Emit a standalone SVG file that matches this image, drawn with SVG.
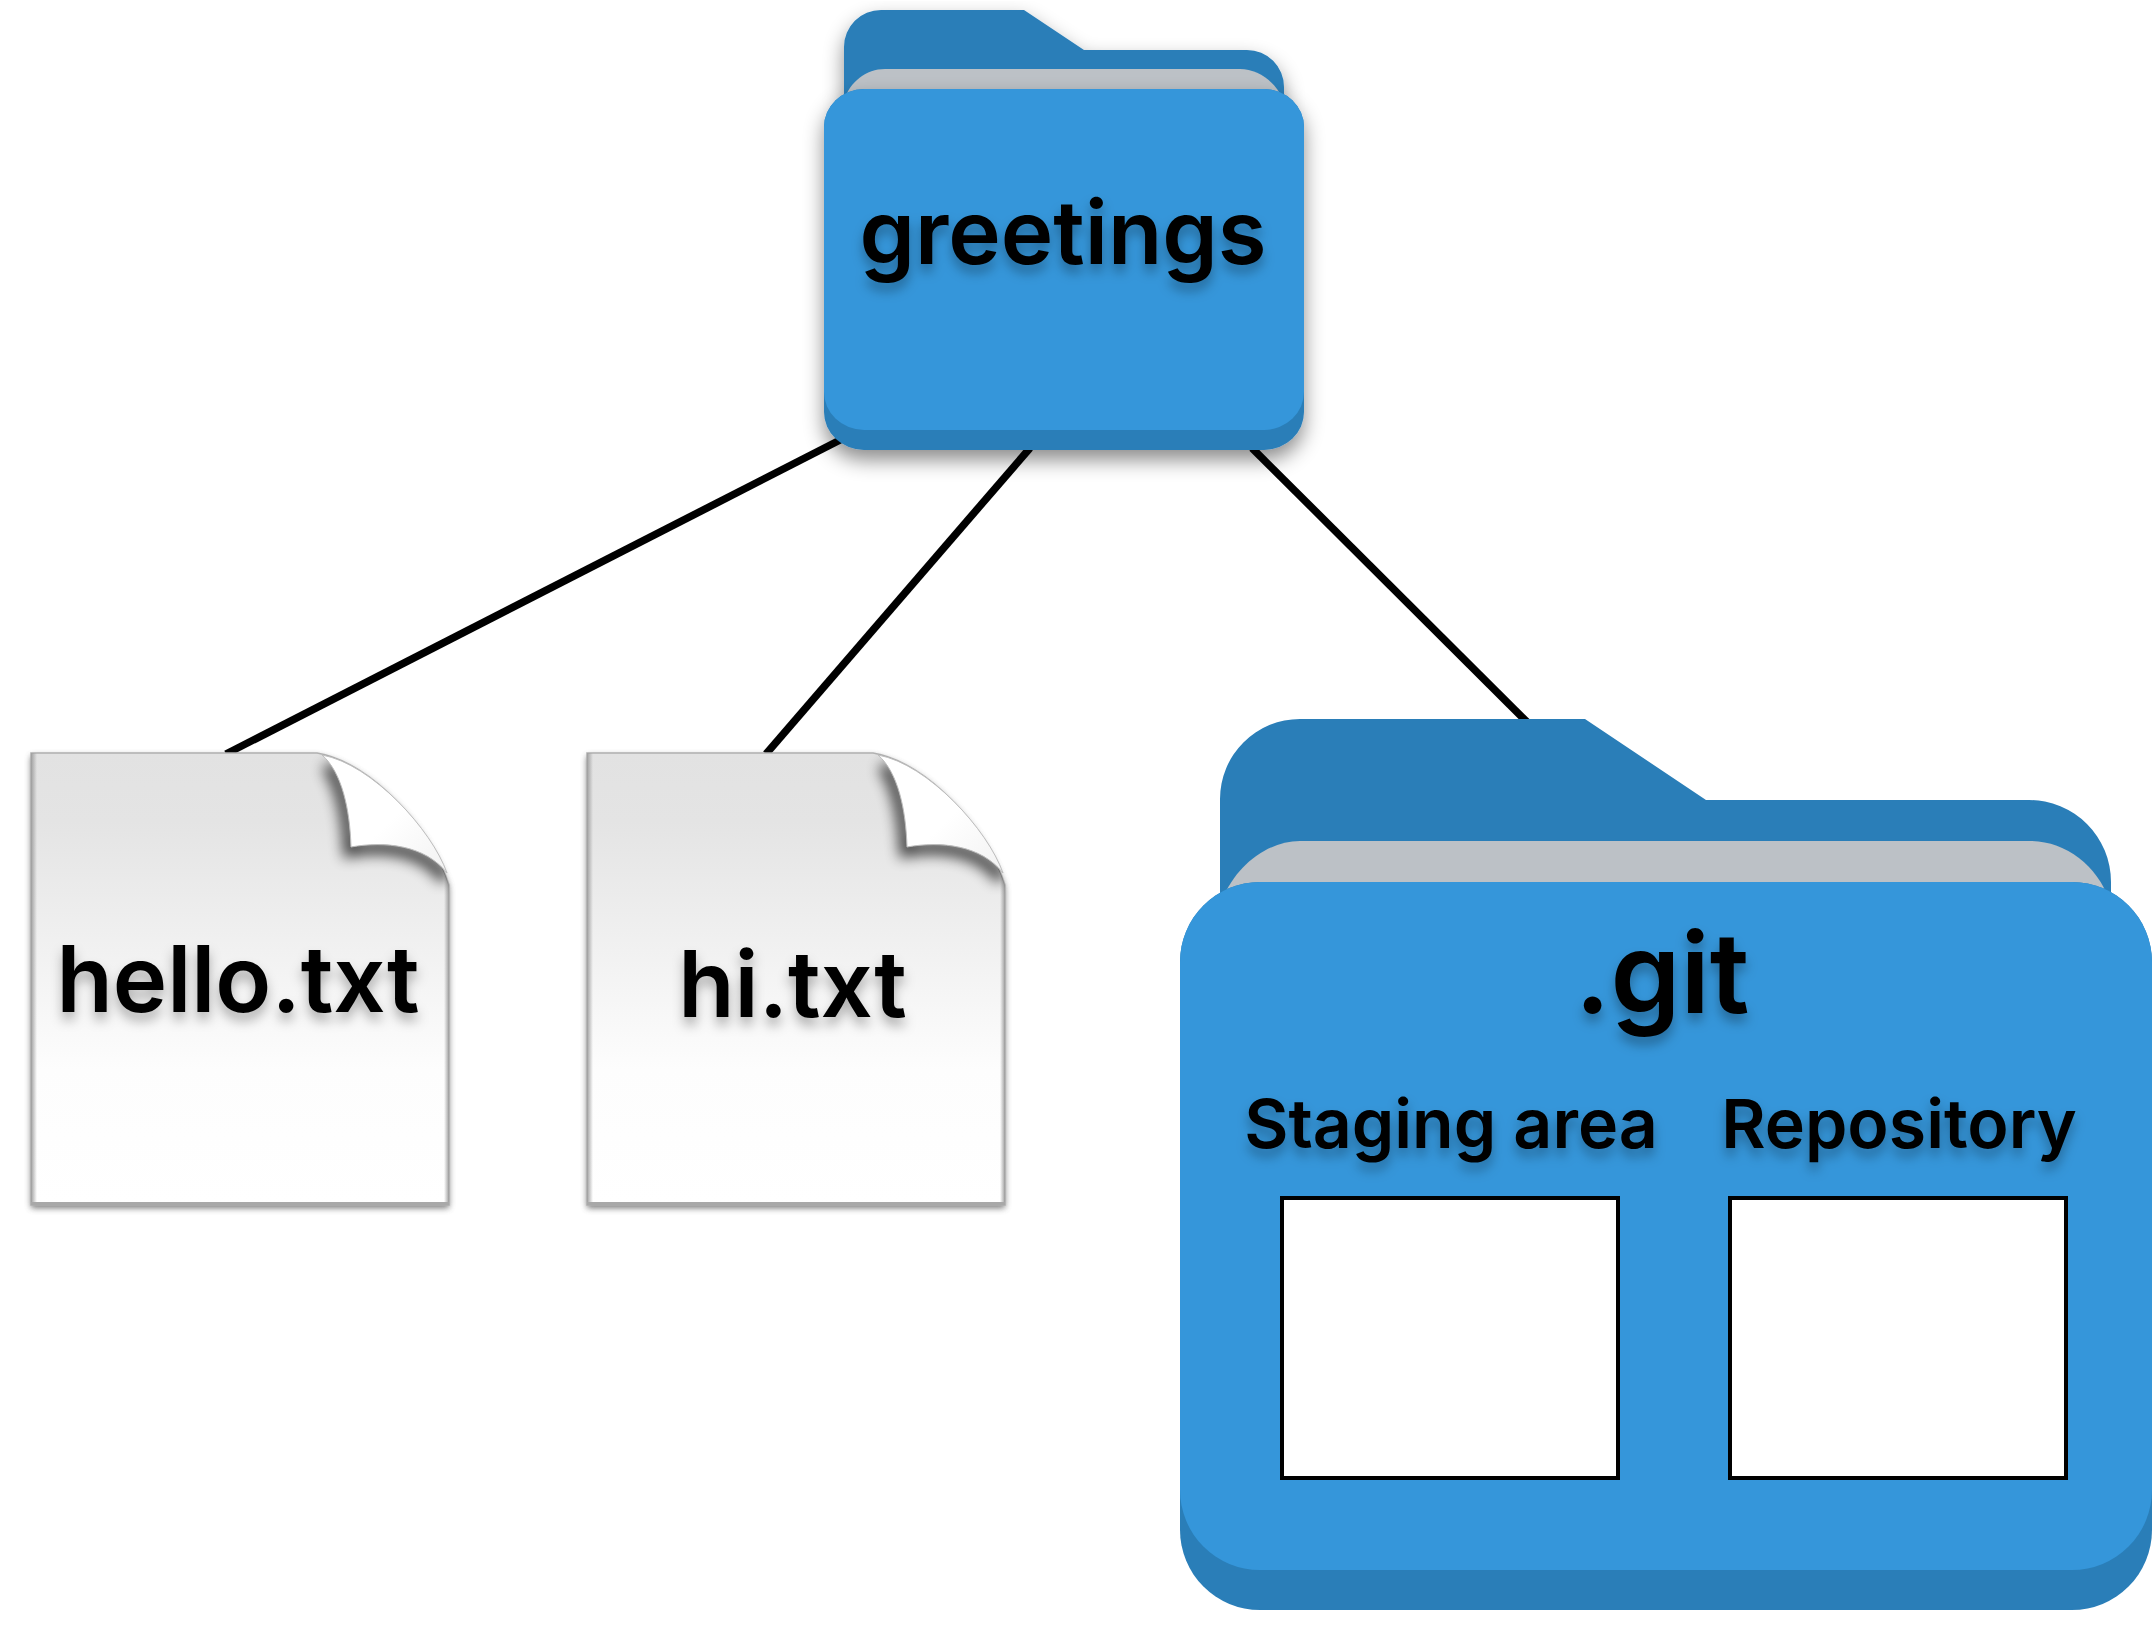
<svg xmlns="http://www.w3.org/2000/svg" xmlns:xlink="http://www.w3.org/1999/xlink" width="2152" height="1634" viewBox="0 0 2152 1634">
<style>
.lbl{font-family:"Inter","Liberation Sans",sans-serif;font-weight:600;fill:#000;text-anchor:middle;filter:url(#ts)}
.dark{fill:#2a7eb8}.light{fill:#3596da}.paper{fill:#bcc1c6}
.conn{stroke:#000;stroke-width:7.5;fill:none}
.box{fill:#fff;stroke:#000;stroke-width:4}
</style>
<defs>
<filter id="ts" x="-10%" y="-30%" width="120%" height="170%"><feDropShadow dx="0" dy="8" stdDeviation="6" flood-color="#000" flood-opacity="0.3"/></filter>
<filter id="fs" x="-10%" y="-10%" width="120%" height="125%"><feDropShadow dx="0" dy="10" stdDeviation="10" flood-color="#000" flood-opacity="0.45"/></filter>
<filter id="b3" x="-30%" y="-30%" width="160%" height="160%"><feGaussianBlur stdDeviation="3"/></filter>
<filter id="b5" x="-40%" y="-40%" width="180%" height="180%"><feGaussianBlur stdDeviation="7"/></filter>
<linearGradient id="pg" x1="0" y1="0" x2="0" y2="1"><stop offset="0" stop-color="#e2e2e2"/><stop offset="0.15" stop-color="#e4e4e4"/><stop offset="0.7" stop-color="#fdfdfd"/><stop offset="1" stop-color="#fff"/></linearGradient>
<linearGradient id="el" x1="0" y1="0" x2="1" y2="0"><stop offset="0" stop-color="#a0a0a0"/><stop offset="1" stop-color="#a0a0a0" stop-opacity="0"/></linearGradient>
<linearGradient id="er" x1="1" y1="0" x2="0" y2="0"><stop offset="0" stop-color="#a0a0a0"/><stop offset="1" stop-color="#a0a0a0" stop-opacity="0"/></linearGradient>
<linearGradient id="fg" x1="0" y1="0" x2="1" y2="1"><stop offset="0.55" stop-color="#fff"/><stop offset="1" stop-color="#f2f2f2"/></linearGradient>
<clipPath id="dc"><path d="M31,753H317C372,762 432,830 449,885V1205H31Z"/></clipPath>
<g id="doc">
<path d="M31,753H317C372,762 432,830 449,885V1205H31Z" fill="#555" filter="url(#b3)" opacity="0.8" transform="translate(0,3)"/>
<path d="M31,753H317C372,762 432,830 449,885V1205H31Z" fill="url(#pg)" stroke="#b0b0b0" stroke-width="1.5"/>
<g clip-path="url(#dc)">
<rect x="31" y="753" width="6" height="452" fill="url(#el)"/>
<rect x="444" y="860" width="5" height="345" fill="url(#er)"/>
<rect x="31" y="1202" width="418" height="3" fill="#a8a8a8"/>
<path d="M329,762C345,785 350,820 351,847C385,841 425,845 447,876" fill="none" stroke="#000" stroke-width="14" filter="url(#b5)" opacity="0.7" transform="translate(-1,3)"/>
</g>
<path d="M322,755C342,772 350,810 351,847C385,841 425,845 447,873C432,830 372,764 322,755Z" fill="url(#fg)" stroke="#bdbdbd" stroke-width="1"/>
</g>
</defs>
<rect width="2152" height="1634" fill="#fff"/>
<g id="connectors">
<line class="conn" x1="842" y1="439" x2="226" y2="754"/>
<line class="conn" x1="1030" y1="448" x2="766" y2="754"/>
<line class="conn" x1="1252" y1="448" x2="1527" y2="722"/>
</g>
<g id="greetings">
<path class="dark" d="M844,100V47a37,37 0 0 1 37,-37H1024L1084,50H1247a37,37 0 0 1 37,37V100Z" filter="url(#fs)"/>
<path class="paper" d="M844,100C850,82 866,69 885,69H1240C1258,69 1276,82 1283,100Z"/>
<rect class="dark" x="824" y="89" width="480" height="361" rx="40" ry="38" filter="url(#fs)"/>
<rect class="light" x="824" y="89" width="480" height="341" rx="40" ry="38"/>
<text class="lbl" x="1063" y="264" font-size="88.8">greetings</text>
</g>
<g id="hello-txt">
<use xlink:href="#doc" href="#doc"/>
<text class="lbl" x="238" y="1012" font-size="92">hello.txt</text>
</g>
<g id="hi-txt">
<use xlink:href="#doc" href="#doc" x="556"/>
<text class="lbl" x="792.5" y="1017" font-size="92">hi.txt</text>
</g>
<g id="git">
<path class="dark" d="M1220,920V799a80,80 0 0 1 80,-80H1585L1706,800H2029a82,82 0 0 1 82,82V920Z"/>
<path class="paper" d="M1222,900C1236,865 1268,841 1300,841H2030C2065,841 2097,865 2109,900Z"/>
<rect class="dark" x="1180" y="882" width="972" height="728" rx="80" ry="80"/>
<rect class="light" x="1180" y="882" width="972" height="688" rx="80" ry="80"/>
<text class="lbl" x="1662" y="1013" font-size="112">.git</text>
<g id="staging-area">
<text class="lbl" x="1451" y="1148" font-size="68">Staging area</text>
<rect class="box" x="1282" y="1198" width="336" height="280"/>
</g>
<g id="repository">
<text class="lbl" x="1899" y="1148" font-size="68">Repository</text>
<rect class="box" x="1730" y="1198" width="336" height="280"/>
</g>
</g>
</svg>
